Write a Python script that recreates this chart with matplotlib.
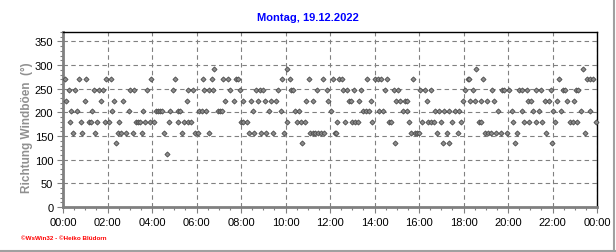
# Richtung Windböen, Montag 19.12.2022
import numpy as np
import matplotlib.pyplot as plt
from matplotlib.ticker import MultipleLocator
from matplotlib.lines import Line2D

# time of day (hours) for each gust direction level
t_2925 = [6.80, 10.08, 18.58, 23.38]
t_270 = [0.08, 0.73, 1.05, 1.95, 2.14, 3.97, 5.05, 6.31, 6.70, 7.21, 7.42, 7.78, 7.86,
         9.85, 10.19, 11.04, 11.70, 12.12, 12.42, 12.54, 13.67, 14.00, 14.16, 14.31,
         14.58, 15.74, 18.20, 18.26, 18.89, 22.31, 23.56, 23.69, 23.81]
t_2475 = [0.25, 0.55, 1.39, 1.60, 1.80, 3.00, 3.20, 3.79, 4.96, 5.63, 5.83, 6.35, 6.55,
          6.76, 7.51, 7.95, 8.67, 8.85, 8.97, 9.66, 10.26, 10.35, 11.43, 11.85, 12.60,
          12.75, 13.08, 13.41, 14.49, 14.86, 15.06, 16.06, 16.25, 16.55, 18.08, 18.41,
          19.30, 19.72, 19.82, 20.06, 20.51, 20.62, 20.84, 21.26, 21.47, 21.92, 22.46,
          22.55, 23.06, 23.16]
t_225 = [0.15, 0.97, 1.72, 2.29, 2.71, 5.56, 7.30, 7.70, 8.08, 8.45, 8.78, 9.09, 9.36,
         9.57, 10.92, 11.25, 11.92, 12.84, 12.93, 13.32, 13.86, 14.97, 15.16, 15.36,
         15.46, 16.34, 17.99, 18.31, 18.50, 18.80, 19.07, 19.35, 20.91, 21.05, 21.66,
         21.86, 22.22, 22.67, 22.97]
t_2025 = [0.37, 0.64, 1.32, 2.20, 2.95, 3.61, 4.19, 4.27, 4.36, 4.45, 4.83, 5.15, 5.26,
          6.13, 6.25, 6.43, 6.95, 7.06, 7.13, 8.52, 9.27, 9.78, 10.41, 10.62, 12.03,
          13.50, 13.62, 13.77, 14.19, 14.37, 15.27, 15.47, 16.73, 16.91, 17.12, 17.36,
          17.60, 17.81, 19.56, 20.17, 20.64, 21.14, 21.41, 22.01, 22.40, 23.27, 23.69]
t_180 = [0.33, 0.82, 1.15, 1.24, 1.54, 1.89, 2.05, 2.53, 3.29, 3.37, 3.46, 3.70, 3.90,
         4.09, 4.76, 5.15, 5.45, 5.60, 5.75, 8.00, 8.10, 8.28, 10.05, 10.53, 10.68,
         10.86, 12.33, 12.69, 13.00, 13.11, 13.26, 13.89, 14.67, 14.76, 15.56, 16.13,
         16.40, 16.55, 16.66, 17.00, 17.48, 17.90, 18.68, 18.77, 20.24, 20.72, 20.96,
         21.26, 21.51, 22.11, 22.79, 22.91, 23.12, 23.96]
t_1575 = [0.46, 0.87, 1.45, 2.47, 2.59, 2.82, 3.13, 3.56, 4.54, 5.35, 5.95, 6.05, 6.55,
          8.37, 8.60, 8.90, 9.12, 9.42, 9.94, 11.10, 11.22, 11.34, 11.46, 11.58, 11.73,
          12.21, 12.27, 15.65, 15.80, 15.89, 15.99, 16.82, 17.24, 17.75, 18.95, 19.10,
          19.25, 19.46, 19.67, 19.94, 20.39, 21.71, 23.46]
t_135 = [2.40, 10.76, 14.93, 17.07, 17.34, 20.33, 21.99]
t_1125 = [4.67]

levels = [292.5, 270, 247.5, 225, 202.5, 180, 157.5, 135, 112.5]
times = [t_2925, t_270, t_2475, t_225, t_2025, t_180, t_1575, t_135, t_1125]

x_ticks = list(range(0, 25, 2))
x_labels = ['%02d:00' % (h % 24) for h in x_ticks]
y_ticks = list(range(0, 351, 50))

x = np.concatenate([np.array(t) for t in times])
y = np.concatenate([np.full(len(t), lv) for t, lv in zip(times, levels)])

plt.rcParams['font.family'] = ['Liberation Sans', 'DejaVu Sans']

fig = plt.figure(figsize=(6.16, 2.53), dpi=100)
ax = fig.add_axes([63 / 616, 1 - 208 / 253, 534 / 616, 175 / 253])

ax.plot(x, y, linestyle='none', marker='D', markersize=2.6,
        markerfacecolor='#8c8c8c', markeredgecolor='#4a4a4a', markeredgewidth=0.6,
        zorder=3, clip_on=False)

ax.set_xlim(0, 24)
ax.set_ylim(0, 370)
ax.set_xticks(x_ticks)
ax.set_xticklabels(x_labels)
ax.xaxis.set_minor_locator(MultipleLocator(0.5))
ax.set_yticks(y_ticks)
ax.yaxis.set_minor_locator(MultipleLocator(10))

ax.grid(True, which='major', color='#808080', linestyle=(0, (4, 3)), linewidth=0.8)
ax.tick_params(axis='both', which='major', labelsize=8, length=4, width=0.8,
               color='#808080', pad=3)
ax.tick_params(axis='both', which='minor', length=2, width=0.8, color='#808080')

for side in ['left', 'bottom']:
    ax.spines[side].set_color('#808080')
    ax.spines[side].set_linewidth(2)
for side in ['top', 'right']:
    ax.spines[side].set_color('black')
    ax.spines[side].set_linewidth(1)

fig.text(308 / 616, 1 - 18 / 253, 'Montag, 19.12.2022', color='#0000ff',
         fontsize=8, fontweight='bold', ha='center', va='center')
fig.text(27 / 616, 1 - 128 / 253, 'Richtung Windböen  (°)', color='#909090',
         fontsize=8.5, fontweight='bold', rotation=90, ha='center', va='center')
fig.text(21 / 616, 1 - 239 / 253, '©WsWin32 - ©Heiko Blüdorn', color='red',
         fontsize=4.5, fontweight='bold', ha='left', va='center')

# grey frame at right and bottom of the picture
fig.add_artist(Line2D([614 / 616, 614 / 616], [0, 1], color='#a0a0a0', lw=1.5))
fig.add_artist(Line2D([0, 1], [1 / 253, 1 / 253], color='#a0a0a0', lw=1.5))

fig.savefig('out.png', dpi=100)
